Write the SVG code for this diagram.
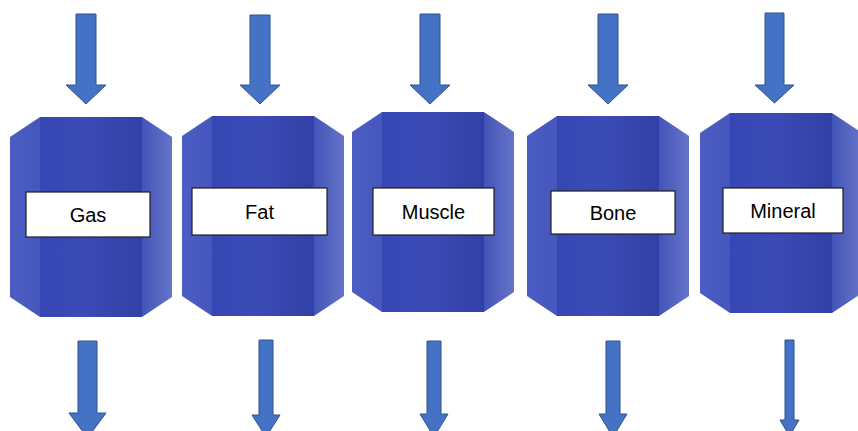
<svg xmlns="http://www.w3.org/2000/svg" width="858" height="431" viewBox="0 0 858 431">
<defs>
<linearGradient id="gC" x1="0" y1="0" x2="1" y2="0">
<stop offset="0" stop-color="#3647b4"/>
<stop offset="0.45" stop-color="#3b4bb6"/>
<stop offset="1" stop-color="#3240a6"/>
</linearGradient>
<linearGradient id="gL" x1="0" y1="0" x2="1" y2="0">
<stop offset="0" stop-color="#4c5ec3"/>
<stop offset="1" stop-color="#4557bd"/>
</linearGradient>
<linearGradient id="gR" x1="0" y1="0" x2="1" y2="0">
<stop offset="0" stop-color="#4254b8"/>
<stop offset="1" stop-color="#6674c8"/>
</linearGradient>
<g id="body">
<polygon points="30,0 132,0 132,200 30,200" fill="url(#gC)"/>
<polygon points="0,20 30,0 30,200 0,180" fill="url(#gL)"/>
<polygon points="132,0 162,20 162,180 132,200" fill="url(#gR)"/>
</g>
</defs>
<style>
.lbl{fill:#ffffff;stroke:#1e1e1e;stroke-width:1.2}
.txt{font-family:"Liberation Sans",Arial,sans-serif;font-size:20px;fill:#000000;text-anchor:middle}
.arr{fill:#4472c4;stroke:#2f528f;stroke-width:1}
</style>
<rect width="858" height="431" fill="#ffffff"/>
<g id="connectors">
<polygon class="arr" points="76,14 96,14 96,85 106,85 86,104 66,85 76,85"/>
<polygon class="arr" points="250,15 270,15 270,85 280,85 260,104 240,85 250,85"/>
<polygon class="arr" points="420,14 440,14 440,85 450,85 430,104 410,85 420,85"/>
<polygon class="arr" points="598,14 618,14 618,85 628,85 608,104 588,85 598,85"/>
<polygon class="arr" points="765,13 784,13 784,85 794,85 774.5,103 755,85 765,85"/>
<polygon class="arr" points="78,341 97,341 97,413 106,413 87.5,438 69,413 78,413"/>
<polygon class="arr" points="259,340 273,340 273,415 280,415 266,437 252,415 259,415"/>
<polygon class="arr" points="427,341 441,341 441,414 448,414 434,437 420,414 427,414"/>
<polygon class="arr" points="606,341 620,341 620,414 627,414 613,437 599,414 606,414"/>
<polygon class="arr" points="785,340 794,340 794,420 799,420 789.5,436 780,420 785,420"/>
</g>
<g id="node-gas">
<use href="#body" transform="translate(10,117)"/>
<rect class="lbl" x="26" y="192" width="124" height="45"/>
<text class="txt" x="88" y="221.5">Gas</text>
</g>
<g id="node-fat">
<use href="#body" transform="translate(182,116)"/>
<rect class="lbl" x="192" y="188" width="135" height="47"/>
<text class="txt" x="259.5" y="218.5">Fat</text>
</g>
<g id="node-muscle">
<use href="#body" transform="translate(352,112)"/>
<rect class="lbl" x="373" y="188" width="121" height="47"/>
<text class="txt" x="433.5" y="218.5">Muscle</text>
</g>
<g id="node-bone">
<use href="#body" transform="translate(527,116)"/>
<rect class="lbl" x="551" y="191" width="124" height="43"/>
<text class="txt" x="613" y="219.5">Bone</text>
</g>
<g id="node-mineral">
<use href="#body" transform="translate(700,113)"/>
<rect class="lbl" x="723" y="188" width="120" height="45"/>
<text class="txt" x="783" y="217.5">Mineral</text>
</g>
</svg>
